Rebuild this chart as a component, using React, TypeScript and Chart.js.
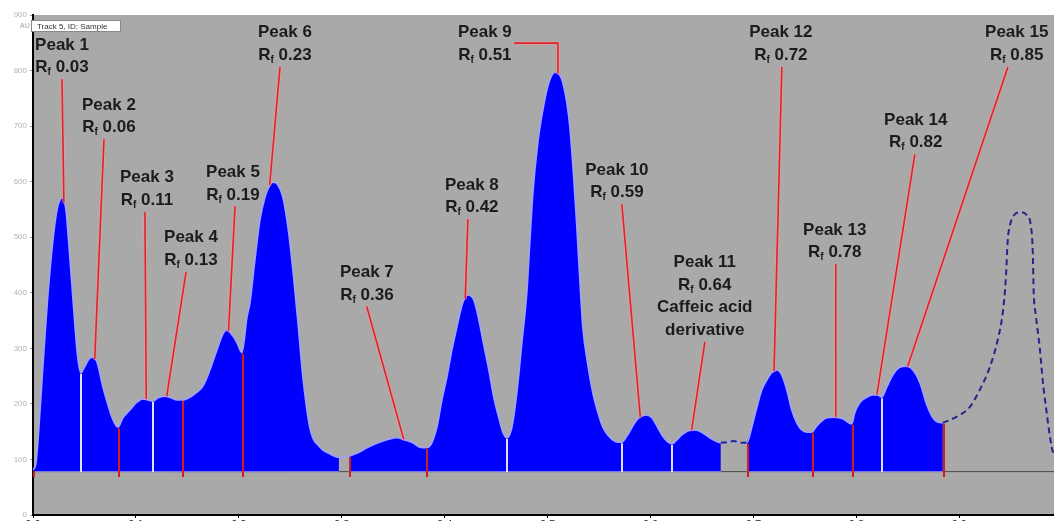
import React, { useEffect, useRef } from "react";
import { Chart, registerables } from "chart.js";

Chart.register(...registerables);

// ---------------- DATA ----------------
// Densitogram trace: Rf position and absorbance (AU)
const curveRf = [
  0, 0.0029, 0.0051, 0.0094, 0.0139, 0.0197, 0.0233, 0.0262, 0.0285, 0.032, 0.0343, 0.0391, 0.0427, 0.045, 0.0466,
  0.0505, 0.0544, 0.0583, 0.0622, 0.068, 0.0729, 0.0767, 0.0826,
  0.0874, 0.0942, 0.101, 0.1068, 0.1117, 0.1166, 0.1214, 0.1282, 0.134, 0.1399, 0.1447, 0.1525, 0.1593, 0.1651,
  0.1719, 0.1787, 0.1846, 0.1884, 0.1943, 0.1982, 0.203,
  0.2079, 0.2108, 0.2156, 0.2205, 0.2254, 0.2302, 0.2332, 0.238, 0.2428, 0.2477, 0.2525, 0.2574, 0.2623, 0.269,
  0.2788, 0.2885, 0.2972, 0.3021, 0.307, 0.3157, 0.3244, 0.3322, 0.34, 0.3468, 0.3536, 0.3613, 0.3691, 0.3759, 0.3817,
  0.3856, 0.3924, 0.3973, 0.4021, 0.407, 0.4118, 0.4176, 0.4224, 0.4283, 0.4332, 0.438, 0.4429, 0.4477, 0.4526, 0.4565, 0.4604,
  0.4653, 0.4701, 0.475, 0.4798, 0.4827, 0.4857, 0.4905, 0.4954, 0.4993, 0.5032, 0.5071, 0.5119, 0.5148, 0.5187, 0.5216,
  0.5255, 0.5284, 0.5313, 0.5342, 0.5391, 0.5439, 0.5488, 0.5537, 0.5585, 0.5634, 0.5682, 0.5721,
  0.577, 0.5818, 0.5867, 0.5916, 0.5964, 0.6013, 0.6062, 0.6111, 0.6159, 0.6208,
  0.6255, 0.6304, 0.6362, 0.643, 0.6498, 0.6576, 0.6634, 0.6683,
  0.6741, 0.6809, 0.6877, 0.6936,
  0.6984, 0.7033, 0.7081, 0.713, 0.7178, 0.7227, 0.7275, 0.7324, 0.7372, 0.7421, 0.747, 0.7518, 0.7567,
  0.7606, 0.7645, 0.7713, 0.779, 0.7868, 0.7926, 0.7955,
  0.7984, 0.8033, 0.8101, 0.8159, 0.8208, 0.8247, 0.8295, 0.8354, 0.8422, 0.849, 0.8549, 0.8617, 0.8685, 0.8743, 0.8791, 0.884,
  0.8907, 0.9004, 0.9101, 0.9198, 0.9296, 0.9373, 0.9422, 0.9451, 0.9471, 0.95, 0.9539, 0.9597, 0.9655, 0.9694, 0.9713,
  0.9723, 0.9743, 0.9781, 0.981, 0.9849, 0.9878, 0.9898, 0.9918,
];
const curveAU = [
  81, 94, 140, 261, 382, 500, 549, 567, 571, 549, 500, 382, 297, 265, 256,
  268, 281, 284, 275, 230, 198, 176, 158,
  175, 189, 203, 209, 207, 205, 211, 214, 211, 207, 207, 212, 221, 232,
  261, 297, 326, 333, 322, 310, 292,
  356, 382, 459, 531, 572, 594, 599, 594, 572, 518, 441, 347, 247, 157,
  122, 110, 104, 104, 106, 112, 121, 128, 133, 137, 139, 135, 130, 122, 121,
  124, 158, 207, 248, 297, 338, 382, 396, 387, 351, 306, 261, 212, 175, 149, 139,
  158, 220, 310, 400, 490, 580, 670, 729, 765, 788, 797, 792, 778, 742, 698,
  603, 518, 423, 338, 270, 220, 185, 158, 144, 135, 131, 131,
  142, 157, 171, 178, 180, 175, 160, 144, 133, 128,
  135, 144, 151, 153, 149, 139, 133, 130,
  131, 133, 130, 130,
  158, 194, 225, 243, 256, 261, 252, 225, 189, 166, 153, 149, 149,
  158, 166, 175, 176, 173, 166, 164,
  184, 202, 212, 216, 216, 212, 230, 252, 266, 268, 261, 238, 198, 175, 167, 166,
  171, 180, 194, 225, 266, 315, 364, 423, 495, 527, 541, 545, 540, 522, 477,
  400, 360, 302, 243, 184, 144, 122, 108,
];

const baselineAU = 79;

// integrated (filled) zones and dashed (not integrated) zones of the trace
const filledRanges = [
  [0, 0.2975],
  [0.3065, 0.6685],
  [0.693, 0.8845],
];
const dashedRanges = [
  [0.668, 0.694],
  [0.8835, 1],
];

// peak boundaries
const whiteDividerRf = [0.0466, 0.1166, 0.4604, 0.5721, 0.6208, 0.8247];
const redDividerRf = [0, 0.0826, 0.1447, 0.203, 0.307, 0.3817, 0.6936, 0.7567, 0.7955, 0.884];

// peaks
const peakNames = [
  "Peak 1", "Peak 2", "Peak 3", "Peak 4", "Peak 5", "Peak 6", "Peak 7", "Peak 8",
  "Peak 9", "Peak 10", "Peak 11", "Peak 12", "Peak 13", "Peak 14", "Peak 15",
];
const peakRf = [0.03, 0.06, 0.11, 0.13, 0.19, 0.23, 0.36, 0.42, 0.51, 0.59, 0.64, 0.72, 0.78, 0.82, 0.85];
const peakNotes = [[], [], [], [], [], [], [], [], [], [], ["Caffeic acid", "derivative"], [], [], [], []];
// label anchor (centre of first text line) in data units
const labelRf = [0.0282, 0.0738, 0.1107, 0.1535, 0.1943, 0.2448, 0.3244, 0.4264, 0.439, 0.5673, 0.6527, 0.7266, 0.779, 0.8577, 0.9558];
const labelAU = [846, 738, 607, 499, 617, 868, 437, 594, 868, 621, 455, 868, 513, 711, 868];
const leaderDx = [0, -5, -2, -5, 2, -5, 0, -4, 0, 5, 0, 1, 1, -1, -9];
const leaderElbow = [false, false, false, false, false, false, false, false, true, false, false, false, false, false, false];

const xTickValues = [0, 0.1, 0.2, 0.3, 0.4, 0.5, 0.6, 0.7, 0.8, 0.9];
const yTickValues = [0, 100, 200, 300, 400, 500, 600, 700, 800, 900];
const legendText = "Track 5, ID: Sample";
const yUnit = "AU";

// ---------------- HELPERS ----------------
function interpAU(rf: number): number {
  if (rf <= curveRf[0]) return curveAU[0];
  for (let i = 1; i < curveRf.length; i++) {
    if (rf <= curveRf[i]) {
      const t = (rf - curveRf[i - 1]) / (curveRf[i] - curveRf[i - 1]);
      return curveAU[i - 1] + t * (curveAU[i] - curveAU[i - 1]);
    }
  }
  return curveAU[curveAU.length - 1];
}

function pointsIn(lo: number, hi: number) {
  const pts: { x: number; y: number | null }[] = [];
  curveRf.forEach((rf, i) => {
    if (rf >= lo && rf <= hi) pts.push({ x: rf, y: curveAU[i] });
  });
  return pts;
}

const FONT = '"Liberation Sans", Arial, Helvetica, sans-serif';

const overlayPlugin = {
  id: "overlay",
  beforeDraw(chart: any) {
    const { ctx, chartArea: a, width, height } = chart;
    ctx.save();
    ctx.fillStyle = "#ffffff";
    ctx.fillRect(0, 0, width, height);
    ctx.fillStyle = "#a9a9a9";
    ctx.fillRect(a.left, a.top, a.right - a.left, a.bottom - a.top);
    ctx.restore();
  },
  afterDatasetsDraw(chart: any) {
    const { ctx, chartArea: a } = chart;
    const xs = chart.scales.x;
    const ys = chart.scales.y;
    const y0 = ys.getPixelForValue(baselineAU);
    ctx.save();

    // baseline
    ctx.strokeStyle = "#4a4a4a";
    ctx.lineWidth = 1;
    ctx.beginPath();
    ctx.moveTo(a.left, y0 + 0.5);
    ctx.lineTo(a.right, y0 + 0.5);
    ctx.stroke();
    ctx.strokeStyle = "#7d7dff";
    filledRanges.forEach(([lo, hi]) => {
      ctx.beginPath();
      ctx.moveTo(xs.getPixelForValue(Math.max(lo, curveRf[0])), y0 + 0.5);
      ctx.lineTo(xs.getPixelForValue(Math.min(hi, 0.884)), y0 + 0.5);
      ctx.stroke();
    });

    // dividers
    ctx.lineWidth = 2;
    whiteDividerRf.forEach((rf) => {
      const px = Math.round(xs.getPixelForValue(rf));
      ctx.strokeStyle = "#e2e2f4";
      ctx.beginPath();
      ctx.moveTo(px, y0 + 1);
      ctx.lineTo(px, ys.getPixelForValue(interpAU(rf)) + 1);
      ctx.stroke();
    });
    redDividerRf.forEach((rf) => {
      const px = Math.round(xs.getPixelForValue(rf)) + 1;
      ctx.strokeStyle = "#d41c1c";
      ctx.beginPath();
      ctx.moveTo(px, y0 + 6);
      ctx.lineTo(px, ys.getPixelForValue(interpAU(rf)) + 1);
      ctx.stroke();
    });

    // labels and leaders
    const big = `bold 17px ${FONT}`;
    const small = `bold 10px ${FONT}`;
    const lineH = 22.7;
    ctx.textBaseline = "middle";
    peakNames.forEach((name, i) => {
      const cx = xs.getPixelForValue(labelRf[i]);
      const cy = ys.getPixelForValue(labelAU[i]);
      const rfText = " " + peakRf[i].toFixed(2);
      ctx.font = big;
      const wName = ctx.measureText(name).width;
      const wR = ctx.measureText("R").width;
      const wVal = ctx.measureText(rfText).width;
      ctx.font = small;
      const wf = ctx.measureText("f").width;
      const wRf = wR + wf + wVal;
      let maxW = Math.max(wName, wRf);

      // leader line
      const apexX = xs.getPixelForValue(peakRf[i]);
      const apexY = ys.getPixelForValue(interpAU(peakRf[i]));
      const nLines = 2 + peakNotes[i].length;
      ctx.lineCap = "round";
      const drawLeader = (pts: number[][]) => {
        ctx.strokeStyle = "rgba(255,150,150,0.55)";
        ctx.lineWidth = 3.5;
        ctx.beginPath();
        pts.forEach(([px, py], k) => (k ? ctx.lineTo(px, py) : ctx.moveTo(px, py)));
        ctx.stroke();
        ctx.strokeStyle = "#d9262e";
        ctx.lineWidth = 1.6;
        ctx.beginPath();
        pts.forEach(([px, py], k) => (k ? ctx.lineTo(px, py) : ctx.moveTo(px, py)));
        ctx.stroke();
      };
      if (leaderElbow[i]) {
        const ey = cy + lineH / 2 - 1;
        drawLeader([
          [cx + maxW / 2 + 3, ey],
          [apexX, ey],
          [apexX, apexY - 1],
        ]);
      } else {
        const sy = cy + (nLines - 1) * lineH + 12;
        drawLeader([
          [cx + leaderDx[i], sy],
          [apexX, apexY - 1],
        ]);
      }

      // text
      ctx.fillStyle = "#1c1c1c";
      ctx.textAlign = "left";
      ctx.font = big;
      ctx.fillText(name, cx - wName / 2, cy);
      const y2 = cy + lineH;
      let sx = cx - wRf / 2;
      ctx.fillText("R", sx, y2);
      ctx.font = small;
      ctx.fillText("f", sx + wR, y2 + 5);
      ctx.font = big;
      ctx.fillText(rfText, sx + wR + wf, y2);
      peakNotes[i].forEach((note, k) => {
        const w = ctx.measureText(note).width;
        ctx.fillText(note, cx - w / 2, cy + (k + 2) * lineH);
      });
    });

    // legend box
    ctx.fillStyle = "#ffffff";
    ctx.fillRect(a.left - 2, a.top + 5, 90, 12);
    ctx.strokeStyle = "#888";
    ctx.lineWidth = 1;
    ctx.strokeRect(a.left - 1.5, a.top + 5.5, 89, 11);
    ctx.fillStyle = "#333";
    ctx.font = `8px ${FONT}`;
    ctx.textAlign = "left";
    ctx.fillText(legendText, a.left + 4, a.top + 11.5);

    // unit
    ctx.fillStyle = "#a0a0a0";
    ctx.font = `7px ${FONT}`;
    ctx.fillText(yUnit, 20, a.top + 11);
    ctx.restore();
  },
};

export default function App() {
  const ref = useRef<HTMLCanvasElement>(null);
  useEffect(() => {
    const canvas = ref.current;
    if (!canvas) return;

    const fillSets = filledRanges.map(([lo, hi]) => ({
      data: pointsIn(lo, hi),
      fill: { value: baselineAU },
      backgroundColor: "#0000ff",
      borderColor: "rgba(0,0,0,0)",
      borderWidth: 0,
      pointRadius: 0,
      cubicInterpolationMode: "monotone" as const,
      order: 3,
    }));

    const outline = {
      data: pointsIn(0, 0.8845),
      fill: false,
      borderColor: "#a2a2f8",
      borderWidth: 1.6,
      pointRadius: 0,
      cubicInterpolationMode: "monotone" as const,
      order: 2,
    };

    const dashedData: { x: number; y: number | null }[] = [];
    dashedRanges.forEach(([lo, hi], k) => {
      if (k > 0) dashedData.push({ x: (dashedRanges[k - 1][1] + lo) / 2, y: null });
      dashedData.push(...pointsIn(lo, hi));
    });
    const dashed = {
      data: dashedData,
      fill: false,
      borderColor: "#25258c",
      borderWidth: 2,
      borderDash: [6, 4],
      pointRadius: 0,
      spanGaps: false,
      cubicInterpolationMode: "monotone" as const,
      order: 1,
    };

    const chart = new Chart(canvas, {
      type: "line",
      data: { datasets: [...fillSets, outline, dashed] as any },
      options: {
        animation: false,
        responsive: false,
        devicePixelRatio: 1,
        parsing: false as any,
        layout: { padding: { top: 15, left: 0, right: 0, bottom: 0 } },
        plugins: { legend: { display: false }, tooltip: { enabled: false } },
        scales: {
          x: {
            type: "linear",
            min: 0,
            max: 0.992,
            afterBuildTicks: (s: any) => {
              s.ticks = xTickValues.map((v) => ({ value: v }));
            },
            afterFit: (s: any) => {
              s.height = 25;
            },
            grid: { drawOnChartArea: false, tickLength: 3, color: "#000" },
            border: { color: "#000", width: 2 },
            ticks: {
              padding: 0,
              color: "#222",
              font: { size: 11, family: FONT },
              callback: (v: any) => Number(v).toFixed(1),
            },
          },
          y: {
            type: "linear",
            min: 0,
            max: 900,
            afterBuildTicks: (s: any) => {
              s.ticks = yTickValues.map((v) => ({ value: v }));
            },
            afterFit: (s: any) => {
              s.width = 33;
            },
            grid: { drawOnChartArea: false, tickLength: 3, color: "#9a9a9a" },
            border: { color: "#000", width: 2 },
            ticks: {
              padding: 3,
              color: "#b4b4b4",
              font: { size: 8, family: FONT },
            },
          },
        },
      },
      plugins: [overlayPlugin],
    });
    return () => chart.destroy();
  }, []);

  return (
    <div
      style={{
        position: "absolute",
        left: 0,
        top: 0,
        width: 1054,
        height: 521,
        overflow: "hidden",
        background: "#fff",
      }}
    >
      <canvas ref={ref} width={1054} height={540} style={{ display: "block", width: 1054, height: 540 }} />
    </div>
  );
}
